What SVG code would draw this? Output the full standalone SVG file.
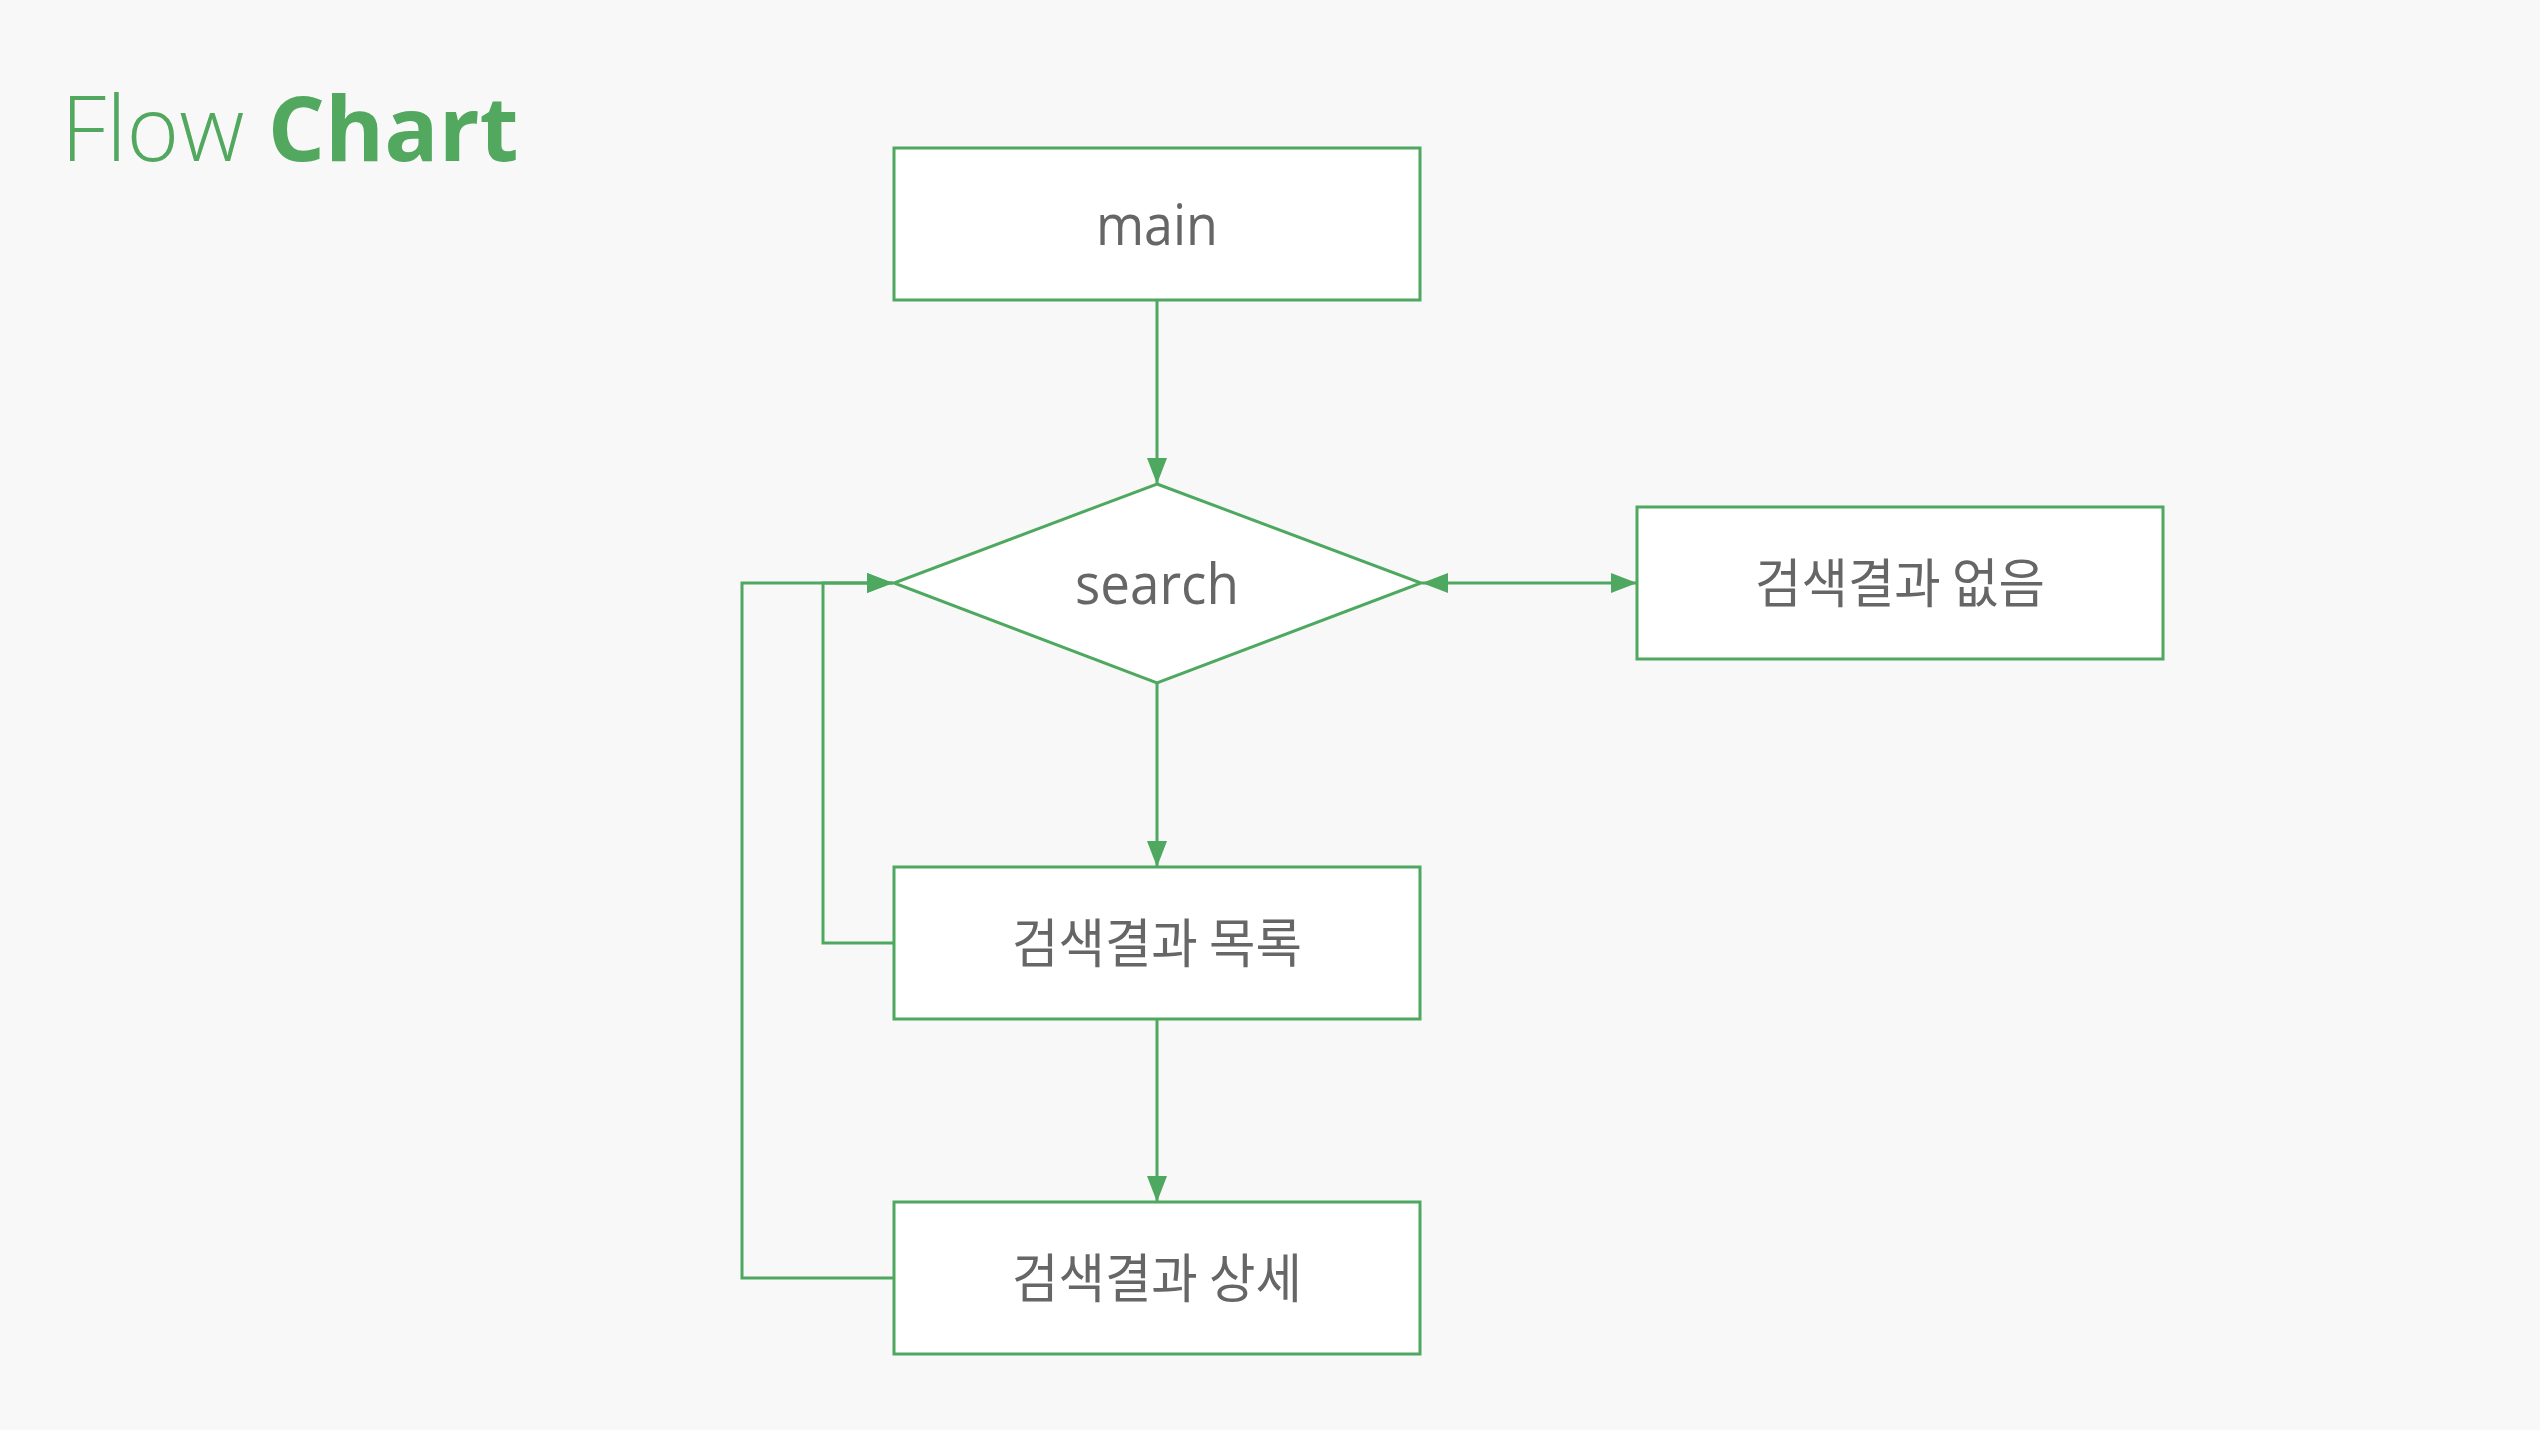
<svg xmlns="http://www.w3.org/2000/svg" width="2540" height="1430" viewBox="0 0 2540 1430">
<style>
.bg{fill:#f8f8f8}
.box{fill:#ffffff;stroke:#4ea85f;stroke-width:3}
.lbl{font-family:"Open Sans","Noto Sans CJK KR",sans-serif;font-size:57px;fill:#666666;text-anchor:middle;dominant-baseline:central}
.ko{font-family:"Noto Sans CJK KR",sans-serif;font-size:53px;fill:#666666;text-anchor:middle;dominant-baseline:central}
.con{fill:none;stroke:#4ea85f;stroke-width:3}
.title{font-family:"Open Sans",sans-serif;font-size:90px;fill:#52a85f}
</style>
<defs>
<marker id="arr" markerUnits="userSpaceOnUse" markerWidth="28" markerHeight="22" refX="26" refY="10" orient="auto-start-reverse" viewBox="0 0 28 22">
<path d="M0,0 L26,10 L0,20 Z" fill="#4ea85f"/>
</marker>
</defs>
<rect class="bg" x="0" y="0" width="2540" height="1430"/>
<text class="title" x="61" y="161"><tspan font-weight="300">Flow </tspan><tspan font-weight="700">Chart</tspan></text>
<g id="connectors">
<line class="con" x1="1157" y1="300" x2="1157" y2="484" marker-end="url(#arr)"/>
<line class="con" x1="1157" y1="683" x2="1157" y2="867" marker-end="url(#arr)"/>
<line class="con" x1="1157" y1="1019" x2="1157" y2="1202" marker-end="url(#arr)"/>
<line class="con" x1="1422" y1="583" x2="1637" y2="583" marker-start="url(#arr)" marker-end="url(#arr)"/>
<polyline class="con" points="894,943 823,943 823,583 893,583" marker-end="url(#arr)"/>
<polyline class="con" points="894,1278 742,1278 742,583 893,583" marker-end="url(#arr)"/>
</g>
<g id="main">
<rect class="box" x="894" y="148" width="526" height="152"/>
<text class="lbl" x="1157" y="223" textLength="122" lengthAdjust="spacingAndGlyphs">main</text>
</g>
<g id="search">
<polygon class="box" points="1157,484 1421,583 1157,683 894,583"/>
<text class="lbl" x="1157" y="582" textLength="164" lengthAdjust="spacingAndGlyphs">search</text>
</g>
<g id="no-result">
<rect class="box" x="1637" y="507" width="526" height="152"/>
<text class="ko" x="1900" y="580" textLength="290" lengthAdjust="spacingAndGlyphs">검색결과 없음</text>
</g>
<g id="result-list">
<rect class="box" x="894" y="867" width="526" height="152"/>
<text class="ko" x="1157" y="940" textLength="290" lengthAdjust="spacingAndGlyphs">검색결과 목록</text>
</g>
<g id="result-detail">
<rect class="box" x="894" y="1202" width="526" height="152"/>
<text class="ko" x="1157" y="1275" textLength="290" lengthAdjust="spacingAndGlyphs">검색결과 상세</text>
</g>
</svg>
